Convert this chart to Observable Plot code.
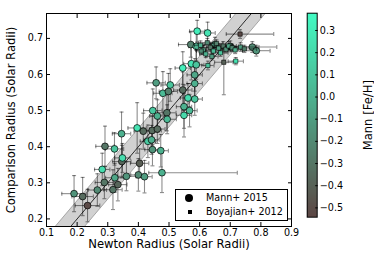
<!DOCTYPE html>
<html><head><meta charset="utf-8">
<script src="https://cdn.jsdelivr.net/npm/d3@7"></script>
<script src="https://cdn.jsdelivr.net/npm/@observablehq/plot@0.6"></script>
<style>
body{margin:0;background:#fff;}
#wrap{position:relative;width:374px;height:267px;font-family:"DejaVu Sans",sans-serif;overflow:hidden;}
#wrap svg{position:absolute;left:0;top:0;overflow:visible;}
.legend{position:absolute;left:175px;top:189px;width:113px;height:32px;border:1px solid #000;background:#fff;box-sizing:border-box;font-size:9.6px;color:#000;}
.legend .row{position:absolute;left:0;height:12px;line-height:12px;}
.legend .lab{position:absolute;left:30px;white-space:nowrap;}
.legend .circ{position:absolute;left:9px;top:2px;width:8px;height:8px;border-radius:50%;background:#000;}
.legend .sq{position:absolute;left:11.5px;top:4px;width:4px;height:4px;background:#000;}
</style></head><body><div id="wrap"></div>
<script>
// ---- Mann+ 2015 ----
const mannX   = [0.190,0.218,0.234,0.266,0.282,0.289,0.291,0.317,0.323,0.322,0.333,0.345,0.346,0.348,0.361,0.396,0.404,0.400,0.420,0.416,0.431,0.443,0.446,0.445,0.447,0.462,0.462,0.458,0.473,0.477,0.480,0.493,0.494,0.498,0.504,0.545,0.549,0.549,0.562,0.567,0.584,0.584,0.584,0.545,0.573,0.589,0.592,0.626,0.571,0.589,0.772,0.785,0.650,0.700];
const mannY   = [0.270,0.262,0.237,0.280,0.337,0.301,0.401,0.281,0.314,0.394,0.295,0.436,0.359,0.369,0.318,0.452,0.354,0.322,0.317,0.443,0.415,0.419,0.392,0.445,0.500,0.449,0.485,0.577,0.389,0.328,0.548,0.494,0.476,0.553,0.571,0.557,0.511,0.487,0.535,0.500,0.532,0.575,0.599,0.618,0.630,0.627,0.720,0.715,0.683,0.678,0.676,0.666,0.683,0.678];
const mannXErr= [0.040,0.035,0.040,0.030,0.025,0.030,0.030,0.030,0.030,0.030,0.030,0.030,0.030,0.025,0.030,0.030,0.030,0.025,0.025,0.030,0.025,0.025,0.025,0.030,0.030,0.025,0.025,0.030,0.025,[0.043,0.246],0.030,0.030,0.030,0.030,0.030,0.030,0.025,0.025,0.025,0.025,0.025,0.025,0.025,0.025,0.025,0.025,0.025,0.025,0.040,0.025,0.080,0.045,0.035,0.035];
const mannYErr= [0.050,0.053,0.045,0.045,0.045,0.045,0.056,0.055,0.040,0.045,0.045,0.060,0.045,0.040,0.040,0.070,0.040,0.045,0.045,0.050,0.045,0.040,0.045,0.040,0.060,0.040,0.045,0.044,0.045,0.055,0.060,0.050,0.040,0.050,0.045,0.050,0.060,0.060,0.040,0.045,0.045,0.045,0.045,0.045,0.045,0.040,0.030,0.030,0.035,0.040,0.015,0.015,0.020,0.015];
const mannFeH = [-0.15,-0.35,-0.52,-0.20,0.22,-0.30,-0.30,-0.30,-0.05,0.10,-0.38,0.00,-0.38,0.22,-0.15,0.25,-0.42,-0.20,-0.10,-0.35,0.12,0.00,-0.15,-0.35,0.12,-0.35,0.00,-0.10,0.00,0.00,0.05,-0.30,0.05,-0.25,0.10,-0.35,0.00,0.20,0.22,0.05,0.10,0.00,-0.05,0.32,0.25,0.10,0.30,0.25,-0.25,0.00,-0.20,-0.15,-0.10,-0.20];

// ---- Boyajian+ 2012 ----
const boyX    = [0.603,0.612,0.620,0.625,0.635,0.645,0.655,0.662,0.668,0.677,0.686,0.695,0.706,0.716,0.734,0.746,0.679,0.718,0.627,0.732,0.640,0.605];
const boyY    = [0.681,0.668,0.657,0.688,0.675,0.665,0.686,0.673,0.660,0.679,0.670,0.679,0.674,0.668,0.676,0.671,0.634,0.637,0.625,0.712,0.650,0.665];
const boyXErr = [0.020,0.025,0.020,0.030,0.025,0.030,0.020,0.040,0.025,0.030,0.040,0.025,0.030,0.025,0.060,0.040,0.030,0.025,0.020,[0.045,0.110],0.020,0.015];
const boyYErr = [0.012,0.012,0.010,0.012,0.010,0.012,0.010,0.012,0.010,0.012,0.010,0.012,0.010,0.010,0.012,0.010,[0.090,0.030],0.010,0.012,0.012,0.010,0.010];
const boyFeH  = [0.00,-0.10,0.00,-0.20,-0.30,0.05,-0.25,-0.10,0.10,-0.30,-0.15,-0.05,-0.20,0.00,-0.10,-0.25,-0.40,0.25,0.10,-0.52,-0.10,-0.20];

// ---- axes ----
const xTicks = [0.1,0.2,0.3,0.4,0.5,0.6,0.7,0.8,0.9];
const yTicks = [0.2,0.3,0.4,0.5,0.6,0.7];
const cbarTicks = [-0.5,-0.4,-0.3,-0.2,-0.1,0.0,0.1,0.2,0.3];
const xDomain = [0.1,0.9];
const yDomain = [0.179,0.769];
const feDomain = [-0.542,0.378];
const bandHalf = 0.048;          // grey 1:1 band half-width
const oneToOne = [0.0,1.0];      // x extent of 1:1 line

const lowColor = "#5c4644", highColor = "#42fcc4";
const W = 374, H = 267;
const fmt = d => (d < 0 ? "\u2212" : "") + Math.abs(d).toFixed(1);
const lo = e => Array.isArray(e) ? e[0] : e;
const hi = e => Array.isArray(e) ? e[1] : e;

const mann = mannX.map((x,i)=>({x, y:mannY[i], xl:x-lo(mannXErr[i]), xh:x+hi(mannXErr[i]), yl:mannY[i]-lo(mannYErr[i]), yh:mannY[i]+hi(mannYErr[i]), fe:mannFeH[i]}));
const boy = boyX.map((x,i)=>({x, y:boyY[i], xl:x-lo(boyXErr[i]), xh:x+hi(boyXErr[i]), yl:boyY[i]-lo(boyYErr[i]), yh:boyY[i]+hi(boyYErr[i]), fe:boyFeH[i]}));

const vCap = {draw(ctx){ ctx.moveTo(0,-2); ctx.lineTo(0,2); }};
const hCap = {draw(ctx){ ctx.moveTo(-2,0); ctx.lineTo(2,0); }};
const eb = {stroke:"#000", strokeOpacity:0.45, strokeWidth:1.1};

function errMarks(data){
  return [
    Plot.ruleY(data, {x1:"xl", x2:"xh", y:"y", ...eb}),
    Plot.ruleX(data, {x:"x", y1:"yl", y2:"yh", ...eb}),
    Plot.dot(data, {x:"xl", y:"y", symbol:vCap, ...eb}),
    Plot.dot(data, {x:"xh", y:"y", symbol:vCap, ...eb}),
    Plot.dot(data, {x:"x", y:"yl", symbol:hCap, ...eb}),
    Plot.dot(data, {x:"x", y:"yh", symbol:hCap, ...eb})
  ];
}

const colorOpt = {type:"linear", domain:feDomain, range:[lowColor, highColor]};

const main = Plot.plot({
  width: W, height: H,
  marginLeft: 46, marginRight: 83, marginTop: 13, marginBottom: 41,
  x: {domain: xDomain},
  y: {domain: yDomain},
  color: colorOpt,
  style: {fontFamily:"DejaVu Sans", fontSize:"9.6px", color:"#000", background:"transparent"},
  marks: [
    Plot.areaY(oneToOne, {x:d=>d, y1:d=>d-bandHalf, y2:d=>d+bandHalf, fill:"#c9c9c9", fillOpacity:0.85, stroke:"#8a8a8a", strokeWidth:0.7, clip:true}),
    Plot.line(oneToOne, {x:d=>d, y:d=>d, stroke:"#000", strokeWidth:0.8, clip:true}),
    ...errMarks(mann),
    Plot.dot(mann, {x:"x", y:"y", r:3.4, fill:"fe", stroke:"#000", strokeWidth:0.7}),
    ...errMarks(boy),
    Plot.dot(boy, {x:"x", y:"y", r:2.4, symbol:"square", fill:"fe", stroke:"#000", strokeWidth:0.6}),
    Plot.frame({stroke:"#000", strokeWidth:1}),
    Plot.axisX({ticks:xTicks, tickSize:-4, tickFormat:()=>"", label:null}),
    Plot.axisX({anchor:"top", ticks:xTicks, tickSize:-4, tickFormat:()=>"", label:null}),
    Plot.axisY({ticks:yTicks, tickSize:-4, tickFormat:()=>"", label:null}),
    Plot.axisY({anchor:"right", ticks:yTicks, tickSize:-4, tickFormat:()=>"", label:null}),
    Plot.axisX({ticks:xTicks, tickSize:0, tickPadding:2.5, tickFormat:d=>d.toFixed(1), label:null}),
    Plot.axisY({ticks:yTicks, tickSize:0, tickPadding:3.5, tickFormat:d=>d.toFixed(1), label:null}),
    Plot.text(["Newton Radius (Solar Radii)"], {frameAnchor:"bottom", dy:21, fontSize:11.6, textAnchor:"middle", text:d=>d}),
    Plot.text(["Comparison Radius (Solar Radii)"], {frameAnchor:"left", dx:-35, rotate:-90, fontSize:11.6, textAnchor:"middle", text:d=>d})
  ]
});

const cells = d3.range(feDomain[0], feDomain[1], 0.004);
const cbar = Plot.plot({
  width: W, height: H,
  marginLeft: 306.7, marginRight: W-316.7, marginTop: 12.7, marginBottom: H-216.7,
  x: {domain:[0,1], axis:null},
  y: {domain: feDomain},
  color: colorOpt,
  style: {fontFamily:"DejaVu Sans", fontSize:"9.6px", color:"#000", background:"transparent"},
  marks: [
    Plot.rect(cells, {x1:0, x2:1, y1:d=>d, y2:d=>Math.min(d+0.0045, feDomain[1]), fill:d=>d+0.002, shapeRendering:"crispEdges"}),
    Plot.frame({stroke:"#000", strokeWidth:1}),
    Plot.axisY({anchor:"right", ticks:cbarTicks, tickSize:-2.5, tickFormat:()=>"", label:null}),
    Plot.axisY({anchor:"right", ticks:cbarTicks, tickSize:0, tickPadding:2.6, tickFormat:fmt, label:null}),
    Plot.text(["Mann [Fe/H]"], {frameAnchor:"right", dx:51, rotate:-90, fontSize:11.6, textAnchor:"middle", text:d=>d})
  ]
});

const wrap = document.getElementById("wrap");
wrap.appendChild(main);
wrap.appendChild(cbar);
const leg = document.createElement("div");
leg.className = "legend";
leg.innerHTML = '<div class="row" style="top:2px;width:100%"><span class="circ"></span><span class="lab">Mann+ 2015</span></div>' +
                '<div class="row" style="top:16px;width:100%"><span class="sq"></span><span class="lab">Boyajian+ 2012</span></div>';
wrap.appendChild(leg);
</script></body></html>
